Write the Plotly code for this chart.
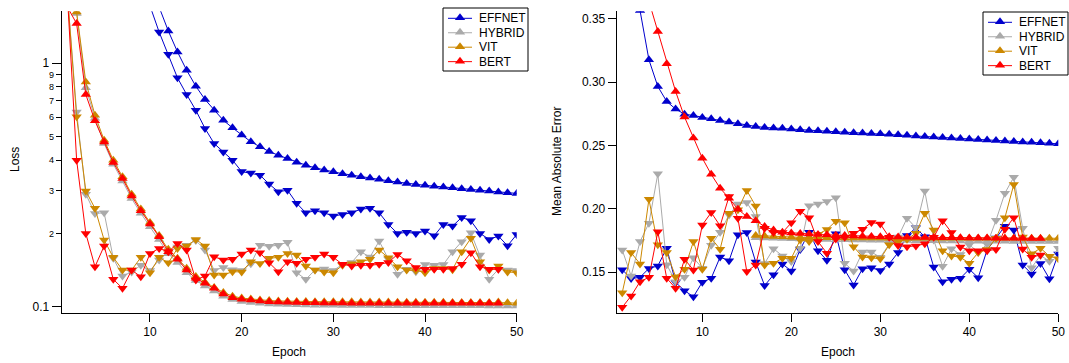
import plotly.graph_objects as go

# ---------------- data ----------------
epochs = list(range(1, 51))
models = ["EFFNET", "HYBRID", "VIT", "BERT"]
colors = {"EFFNET": "#0000CC", "HYBRID": "#AAAAAA", "VIT": "#CC8800", "BERT": "#FF0000"}

# Loss (log axis): training (up triangles) and validation (down triangles)
loss_train = {
    "EFFNET": [9.0, 7.0, 5.5, 4.4, 3.6, 3.0, 2.6, 2.3, 2.05, 1.86,
               1.70, 1.357, 1.113, 0.936, 0.805, 0.710, 0.641, 0.583, 0.543, 0.507,
               0.476, 0.454, 0.434, 0.419, 0.406, 0.392, 0.3815, 0.372, 0.364, 0.358,
               0.352, 0.347, 0.3415, 0.338, 0.334, 0.329, 0.325, 0.321, 0.318, 0.3152,
               0.3128, 0.310, 0.308, 0.3055, 0.303, 0.301, 0.2985, 0.2957, 0.2938, 0.292],
    "HYBRID": [2.4, 1.60, 0.794, 0.595, 0.468, 0.385, 0.328, 0.278, 0.242, 0.213,
               0.189, 0.165, 0.152, 0.138, 0.128, 0.1215, 0.116, 0.1105, 0.1070, 0.1050,
               0.1040, 0.1033, 0.1027, 0.1023, 0.1020, 0.1018, 0.1016, 0.1015, 0.1014, 0.1013,
               0.1012, 0.1012, 0.1011, 0.1011, 0.1010, 0.1010, 0.1010, 0.1009, 0.1009, 0.1009,
               0.1009, 0.1008, 0.1008, 0.1008, 0.1008, 0.1008, 0.1007, 0.1007, 0.1007, 0.1007],
    "VIT": [2.6, 1.623, 0.838, 0.612, 0.483, 0.400, 0.342, 0.290, 0.252, 0.222,
            0.196, 0.172, 0.158, 0.144, 0.133, 0.126, 0.120, 0.1145, 0.1105, 0.1085,
            0.1075, 0.1066, 0.1060, 0.1056, 0.1053, 0.1051, 0.1050, 0.1049, 0.1048, 0.1048,
            0.1047, 0.1047, 0.1046, 0.1046, 0.1045, 0.1045, 0.1044, 0.1044, 0.1043, 0.1043,
            0.1042, 0.1042, 0.1041, 0.1041, 0.1040, 0.1040, 0.1040, 0.1045, 0.1038, 0.1034],
    "BERT": [1.70, 1.455, 0.744, 0.580, 0.475, 0.391, 0.3365, 0.2846, 0.2477, 0.2184,
             0.1937, 0.1681, 0.1565, 0.1414, 0.1308, 0.1247, 0.1190, 0.1127, 0.1089, 0.1072,
             0.1065, 0.1055, 0.1048, 0.1045, 0.1042, 0.1040, 0.1038, 0.1037, 0.1036, 0.1035,
             0.1035, 0.1034, 0.1034, 0.1034, 0.1033, 0.1033, 0.1033, 0.1033, 0.1033, 0.1033,
             0.1033, 0.1033, 0.1033, 0.1033, 0.1033, 0.1033, 0.1033, 0.1033, None, None],
}
loss_val = {
    "EFFNET": [5.5, 4.6, 3.9, 3.3, 2.85, 2.5, 2.2, 2.0, 1.85, 1.72,
               1.343, 1.089, 0.871, 0.744, 0.641, 0.540, 0.468, 0.4325, 0.400, 0.359,
               0.354, 0.347, 0.319, 0.2965, 0.301, 0.266, 0.243, 0.2477, 0.243, 0.2356,
               0.2394, 0.243, 0.2518, 0.2535, 0.243, 0.2178, 0.200, 0.202, 0.200, 0.2045,
               0.1956, 0.2178, 0.2143, 0.2327, 0.2254, 0.200, 0.189, 0.195, 0.178, 0.198],
    "HYBRID": [1.9, 0.631, 0.290, 0.2416, 0.243, 0.158, 0.1336, 0.139, 0.148, 0.141,
               0.1555, 0.168, 0.176, 0.179, 0.187, 0.171, 0.141, 0.145, 0.142, 0.141,
               0.150, 0.179, 0.177, 0.179, 0.184, 0.138, 0.1296, 0.1414, 0.143, 0.141,
               0.149, 0.152, 0.168, 0.160, 0.186, 0.157, 0.136, 0.1424, 0.1392, 0.149,
               0.148, 0.149, 0.168, 0.185, 0.2013, 0.163, 0.1296, 0.1424, 0.1414, 0.141],
    "VIT": [1.9, 0.603, 0.299, 0.2535, 0.1878, 0.1595, 0.1414, 0.1414, 0.1595, 0.138,
            0.1595, 0.1515, 0.1736, 0.1775, 0.189, 0.1775, 0.135, 0.135, 0.1392, 0.139,
            0.153, 0.1505, 0.158, 0.1595, 0.1656, 0.163, 0.1469, 0.1414, 0.139, 0.138,
            0.148, 0.150, 0.153, 0.1565, 0.171, 0.159, 0.146, 0.1414, 0.141, 0.138,
            0.1437, 0.1437, 0.142, 0.168, 0.191, 0.153, 0.1414, 0.1469, 0.139, 0.138],
    "BERT": [1.87, 0.400, 0.200, 0.146, 0.1775, 0.1296, 0.119, 0.1414, 0.1328, 0.1656,
             0.1736, 0.168, 0.182, 0.171, 0.1287, 0.1336, 0.1604, 0.1555, 0.1565, 0.1645,
             0.171, 0.1666, 0.1515, 0.1392, 0.153, 0.1507, 0.1565, 0.1595, 0.1645, 0.1595,
             0.1493, 0.1469, 0.148, 0.148, 0.1493, 0.152, 0.164, 0.1545, 0.145, 0.1424,
             0.1424, 0.1424, 0.1437, 0.1493, 0.1666, 0.146, 0.1424, 0.1424, None, None],
}

# Mean absolute error (linear axis)
mae_train = {
    "EFFNET": [0.42, 0.39, 0.3565, 0.3176, 0.2965, 0.2847, 0.2787, 0.2747, 0.2736, 0.2720,
               0.2710, 0.2697, 0.2684, 0.2671, 0.2658, 0.2650, 0.2642, 0.2637, 0.2635, 0.2629,
               0.2624, 0.2618, 0.2615, 0.2612, 0.2608, 0.2605, 0.2601, 0.2598, 0.2595, 0.2592,
               0.2588, 0.2584, 0.2580, 0.2575, 0.2571, 0.2567, 0.2563, 0.2559, 0.2555, 0.2550,
               0.2547, 0.2543, 0.2540, 0.2536, 0.2532, 0.2528, 0.2525, 0.2521, 0.2517, 0.2513],
    "HYBRID": [None] * 15 + [
               0.1772, 0.1770, 0.1768, 0.1766, 0.1764, 0.1762, 0.1761, 0.1760, 0.1758, 0.1757,
               0.1756, 0.1755, 0.1754, 0.1753, 0.1752, 0.1751, 0.1750, 0.1750, 0.1749, 0.1748,
               0.1748, 0.1747, 0.1747, 0.1746, 0.1746, 0.1745, 0.1745, 0.1744, 0.1744, 0.1743,
               0.1743, 0.1743, 0.1742, 0.1742, 0.1742],
    "VIT": [None] * 15 + [
            0.1790, 0.1786, 0.1782, 0.1779, 0.1777, 0.1775, 0.1774, 0.1773, 0.1772, 0.1772,
            0.1771, 0.1771, 0.1770, 0.1770, 0.1770, 0.1769, 0.1769, 0.1769, 0.1769, 0.1768,
            0.1768, 0.1768, 0.1768, 0.1768, 0.1768, 0.1768, 0.1768, 0.1768, 0.1768, 0.1768,
            0.1768, 0.1768, 0.1768, 0.1768, 0.1768],
    "BERT": [0.45, 0.42, 0.39, 0.3637, 0.3399, 0.3144, 0.2926, 0.2724, 0.2558, 0.2400,
             0.2272, 0.2163, 0.2084, 0.1997, 0.1939, 0.1907, 0.1860, 0.1834, 0.1816, 0.1810,
             0.1806, 0.1802, 0.1798, 0.1795, 0.1792, 0.1789, 0.1786, 0.1784, 0.1782, 0.1780,
             0.1779, 0.1778, 0.1777, 0.1776, 0.1775, 0.1774, 0.1773, 0.1772, 0.1772, 0.1771,
             0.1770, 0.1770, 0.1769, 0.1769, 0.1768, 0.1768, 0.1767, 0.1767, None, None],
}
mae_val = {
    "EFFNET": [0.1520, 0.1450, 0.1460, 0.1530, 0.1550, 0.1690, 0.1420, 0.1355, 0.1307, 0.1422,
               0.1453, 0.1620, 0.1590, 0.1795, 0.1813, 0.1580, 0.1395, 0.1480, 0.1565, 0.1510,
               0.1680, 0.1816, 0.1670, 0.1594, 0.1804, 0.1520, 0.1400, 0.1528, 0.1535, 0.1514,
               0.1566, 0.1656, 0.1790, 0.1850, 0.1780, 0.1542, 0.1426, 0.1445, 0.1453, 0.1524,
               0.1457, 0.1676, 0.1770, 0.1863, 0.1834, 0.1558, 0.1487, 0.1570, 0.1449, 0.1644],
    "HYBRID": [0.1676, 0.1471, 0.1742, 0.1887, 0.2276, 0.1560, 0.1426, 0.1460, 0.1614, 0.1532,
               0.1712, 0.1816, 0.1952, 0.2039, 0.2050, 0.1939, 0.1570, 0.1686, 0.1629, 0.1584,
               0.1689, 0.2025, 0.2038, 0.2057, 0.2088, 0.1571, 0.1509, 0.1659, 0.1659, 0.1618,
               0.1722, 0.1778, 0.1926, 0.1850, 0.2140, 0.1755, 0.1547, 0.1686, 0.1640, 0.1716,
               0.1660, 0.1720, 0.1910, 0.2124, 0.2250, 0.1847, 0.1536, 0.1633, 0.1587, 0.1690],
    "VIT": [0.1339, 0.1655, 0.1566, 0.2076, 0.1716, 0.1655, 0.1465, 0.1524, 0.1742, 0.1524,
            0.1768, 0.1682, 0.1966, 0.1992, 0.2144, 0.2023, 0.1558, 0.1571, 0.1610, 0.1610,
            0.1755, 0.1742, 0.1800, 0.1837, 0.1903, 0.1890, 0.1702, 0.1620, 0.1614, 0.1606,
            0.1716, 0.1740, 0.1760, 0.1808, 0.1966, 0.1834, 0.1670, 0.1629, 0.1618, 0.1571,
            0.1655, 0.1680, 0.1768, 0.1930, 0.2193, 0.1778, 0.1645, 0.1690, 0.1627, 0.1606],
    "BERT": [0.1224, 0.1313, 0.1426, 0.1460, 0.1820, 0.1453, 0.1374, 0.1603, 0.1518, 0.1873,
             0.1971, 0.1866, 0.2097, 0.1926, 0.1505, 0.1558, 0.1847, 0.1813, 0.1813, 0.1890,
             0.1982, 0.1930, 0.1742, 0.1650, 0.1762, 0.1776, 0.1808, 0.1840, 0.1892, 0.1881,
             0.1776, 0.1710, 0.1702, 0.1708, 0.1724, 0.1776, 0.1907, 0.1813, 0.1700, 0.1670,
             0.1670, 0.1670, 0.1680, 0.1840, 0.1930, 0.1683, 0.1618, 0.1637, None, None],
}

loss_minor_ticks = [0.2, 0.3, 0.4, 0.5, 0.6, 0.7, 0.8, 0.9]
loss_minor_text = ["2", "3", "4", "5", "6", "7", "8", "9"]
loss_major_ticks = [0.1, 1]
loss_major_text = ["0.1", "1"]
mae_ticks = [0.15, 0.20, 0.25, 0.30, 0.35]
epoch_ticks = [10, 20, 30, 40, 50]

# ---------------- figure ----------------
W, H = 1069, 363
FONT = "Arial, 'Liberation Sans', sans-serif"
MSIZE = 9

fig = go.Figure()


def add_pair(train, val, xa, ya):
    for m in models:
        c = colors[m]
        fig.add_trace(go.Scatter(
            x=epochs, y=train[m], xaxis=xa, yaxis=ya, name=m,
            mode="lines+markers", line=dict(color=c, width=1),
            marker=dict(symbol="triangle-up", size=MSIZE, color=c),
            showlegend=False, connectgaps=False))
        fig.add_trace(go.Scatter(
            x=epochs, y=val[m], xaxis=xa, yaxis=ya, name=m + " val",
            mode="lines+markers", line=dict(color=c, width=1),
            marker=dict(symbol="triangle-down", size=MSIZE, color=c),
            showlegend=False, connectgaps=False))


add_pair(loss_train, loss_val, "x", "y")
add_pair(mae_train, mae_val, "x2", "y2")

# invisible trace so the minor-tick axis is drawn
fig.add_trace(go.Scatter(x=[None], y=[None], xaxis="x", yaxis="y3", showlegend=False,
                         hoverinfo="skip"))

# ---- compact boxed legends, laid out in pixel units on a hidden full-page axis ----
legend_boxes = [(443, 8, 528, 71), (983, 12, 1068, 75)]
ROW0, ROWGAP = 10.3, 14.45
for (bx0, by0, bx1, by1) in legend_boxes:
    fig.add_trace(go.Scatter(
        x=[bx0, bx1, bx1, bx0, bx0], y=[by0, by0, by1, by1, by0],
        xaxis="x3", yaxis="y4", mode="lines", fill="toself", fillcolor="white",
        line=dict(color="black", width=1), showlegend=False, hoverinfo="skip"))
    for i, m in enumerate(models):
        yy = by0 + ROW0 + i * ROWGAP
        fig.add_trace(go.Scatter(
            x=[bx0 + 5, bx0 + 29], y=[yy, yy], xaxis="x3", yaxis="y4", mode="lines",
            line=dict(color=colors[m], width=1), showlegend=False, hoverinfo="skip"))
        fig.add_trace(go.Scatter(
            x=[bx0 + 17], y=[yy - 0.5], xaxis="x3", yaxis="y4", mode="markers",
            marker=dict(symbol="triangle-up", size=MSIZE, color=colors[m]),
            showlegend=False, hoverinfo="skip"))
        fig.add_annotation(xref="paper", yref="paper", x=(bx0 + 34) / W, y=1 - yy / H,
                           text=m, showarrow=False, xanchor="left", yanchor="middle",
                           font=dict(family=FONT, size=12, color="black"))

ydom = [1 - 312.7 / H, 1 - 11.3 / H]
axis_common = dict(showgrid=False, zeroline=False, showline=True, linecolor="black",
                   linewidth=1, ticks="outside", tickcolor="black", tickwidth=1,
                   tickfont=dict(family=FONT, size=12, color="black"))

fig.update_layout(
    width=W, height=H,
    margin=dict(l=0, r=0, t=0, b=0, autoexpand=False),
    paper_bgcolor="white", plot_bgcolor="rgba(0,0,0,0)",
    font=dict(family=FONT, size=12, color="black"),
    showlegend=False,
    xaxis=dict(domain=[61.7 / W, 516.7 / W], range=[0.37, 50], anchor="y",
               tickvals=epoch_ticks, ticklen=8, **axis_common),
    yaxis=dict(domain=ydom, type="log", range=[-1.0246, 0.2134], anchor="x",
               tickvals=loss_major_ticks, ticktext=loss_major_text, ticklen=9,
               **axis_common),
    yaxis3=dict(overlaying="y", anchor="x", side="left", type="log",
                range=[-1.0246, 0.2134], showgrid=False, zeroline=False,
                showline=False, ticks="outside", ticklen=5, tickcolor="black",
                tickvals=loss_minor_ticks, ticktext=loss_minor_text,
                tickfont=dict(family=FONT, size=9, color="black")),
    xaxis2=dict(domain=[616.7 / W, 1058.3 / W], range=[0.38, 50], anchor="y2",
                tickvals=epoch_ticks, ticklen=8, **axis_common),
    yaxis2=dict(domain=ydom, range=[0.1181, 0.3558], anchor="x2",
                tickvals=mae_ticks, tickformat=".2f", ticklen=8, **axis_common),
    xaxis3=dict(domain=[0, 1], range=[0, W], anchor="y4", visible=False, fixedrange=True),
    yaxis4=dict(domain=[0, 1], range=[H, 0], anchor="x3", visible=False, fixedrange=True),
)

titles = [
    dict(text="Loss", x=15 / W, y=1 - 160 / H, textangle=-90),
    dict(text="Mean Absolute Error", x=557 / W, y=1 - 162 / H, textangle=-90),
    dict(text="Epoch", x=289 / W, y=1 - 352 / H, textangle=0),
    dict(text="Epoch", x=837.5 / W, y=1 - 352 / H, textangle=0),
]
for t in titles:
    fig.add_annotation(xref="paper", yref="paper", showarrow=False,
                       xanchor="center", yanchor="middle",
                       font=dict(family=FONT, size=12, color="black"), **t)

fig.write_html("out.html")
